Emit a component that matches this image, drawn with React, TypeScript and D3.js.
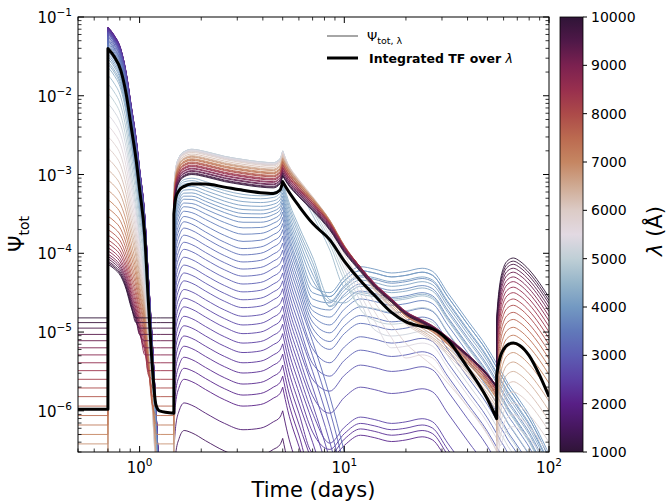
import React from "react";
import * as d3 from "d3";

// ---------- data (log10 of Psi unless stated) ----------
const WAVELENGTHS = [
  1000,1250,1500,1750,
  2000,2080,2160,2240,2320,2400,2480,2560,2640,2720,2800,2880,2960,3040,3120,3200,3280,3360,3440,3520,3600,3680,3760,3840,3920,4000,4080,4160,4240,4320,4400,
  4600,4800,5000,5200,5400,5600,5800,6000,6200,6400,6600,6800,7000,7200,7400,7600,7800,8000,8200,8400,8600,8800,9000,9200,9400,9600,9800,10000];

// flat level before the first flash (0.5-0.7 d) and between flashes
const LVL_A = [
  -9,-9,-9,-9,
  -9,-9,-9,-9,-9,-9,-9,-9,-9,-9,-9,-9,-9,-9,-9,-9,-9,-9,-9,-9,-9,-9,-9,-9,-9,-9,-9,-9,-9,-9,-9,
  -9,-9,-9,-9,-9,-9,-9,-9,-9,-6.7,-6.55,-6.42,-6.3,-6.18,-6.06,-5.94,-5.82,-5.71,-5.6,-5.49,-5.39,-5.29,-5.2,-5.11,-5.03,-4.95,-4.88,-4.82];
// first flash peak at 0.7 d
const PEAK_B = [
  -1.17,-1.15,-1.14,-1.13,
  -1.13,-1.13,-1.14,-1.14,-1.15,-1.15,-1.16,-1.17,-1.18,-1.19,-1.19,-1.2,-1.21,-1.22,-1.24,-1.25,-1.27,-1.29,-1.3,-1.32,-1.34,-1.36,-1.39,-1.41,-1.44,-1.47,-1.5,-1.53,-1.57,-1.6,-1.64,
  -1.74,-1.85,-1.97,-2.1,-2.24,-2.38,-2.52,-2.66,-2.8,-2.94,-3.07,-3.2,-3.32,-3.43,-3.53,-3.62,-3.7,-3.77,-3.83,-3.88,-3.93,-3.97,-4.01,-4.04,-4.07,-4.1,-4.12,-4.14];
const DECAY_B = [
  1,1,1,1,
  1,1,1,1,1,1,1,1,1,1,1,1,1,1,1,1,1,1,1,1,1,1,1,1,1,1,1,1,1,1,1,
  1,1,1,0.97,0.93,0.9,0.86,0.82,0.78,0.74,0.7,0.67,0.64,0.61,0.59,0.57,0.56,0.55,0.55,0.55,0.55,0.55,0.55,0.55,0.55,0.55,0.55,0.55];
// second plateau level (~1.8 d)
const LVL_C = [
  -7.2,-6.7,-6.25,-5.9,
  -5.6,-5.46,-5.32,-5.18,-5.05,-4.92,-4.8,-4.68,-4.57,-4.46,-4.35,-4.25,-4.15,-4.05,-3.95,-3.86,-3.77,-3.68,-3.6,-3.53,-3.46,-3.4,-3.35,-3.3,-3.26,-3.22,-3.18,-3.14,-3.1,-3.07,-3.04,
  -2.7,-2.68,-2.68,-2.68,-2.69,-2.7,-2.71,-2.72,-2.74,-2.76,-2.77,-2.78,-2.8,-2.81,-2.82,-2.84,-2.85,-2.86,-2.88,-2.89,-2.9,-2.92,-2.93,-2.95,-2.96,-2.98,-2.99,-3.0];
const MIX_C = [
  1,1,1,1,
  1,1,1,1,1,1,1,1,1,1,1,1,1,1,1,1,1,1,1,0.9,0.8,0.7,0.6,0.55,0.5,0.45,0.4,0.35,0.3,0.25,0.2,
  0,0,0,0,0,0,0,0,0,0,0,0,0,0,0,0,0,0,0,0,0,0,0,0,0,0,0,0];
const MIX_D = [
  1,1,1,1,
  1,1,1,1,1,1,1,1,1,1,1,1,1,1,1,1,1,1,1,1,1,1,1,0.95,0.9,0.85,0.8,0.75,0.7,0.65,0.6,
  0.35,0.3,0.25,0.2,0.15,0.1,0.05,0,0,0,0,0,0,0,0,0,0,0,0,0,0,0,0,0,0,0,0,0];
const SLOPE_D = [
  1.1,1.1,1.1,1.1,
  1.1,1.1,1.1,1.1,1.1,1.1,1.1,1.1,1.1,1.1,1.1,1.1,1.1,1.1,1.1,1.1,1.1,1.1,1.1,1.1,1.1,1.1,1.1,1.1,1.1,1.1,1.1,1.1,1.1,1.1,1.1,
  1.1,1.1,1.1,1.1,1.1,1.1,1.1,1.08,1.06,1.04,1.02,1.0,0.99,0.98,0.97,0.96,0.95,0.94,0.93,0.92,0.91,0.9,0.9,0.89,0.89,0.88,0.88,0.88];
const FLOOR_D = [
  -12,-12,-12,-12,
  -12,-6.39,-12,-6.31,-12,-6.24,-12,-6.16,-12,-5.78,-12,-5.5,-12,-5.31,-12,-5.14,-12,-4.97,-4.87,-4.76,-4.66,-4.56,-4.47,-4.38,-4.3,-4.25,-4.3,-4.36,-4.42,-4.5,-4.58,
  -4.6,-4.75,-4.9,-5.05,-5.2,-5.35,-5.5,-5.65,-12,-12,-12,-12,-12,-12,-12,-12,-12,-12,-12,-12,-12,-12,-12,-12,-12,-12,-12,-12];
// third flash peak (~67 d)
const PEAK_E = [
  -12,-12,-12,-12,
  -12,-12,-12,-12,-12,-12,-12,-12,-12,-12,-12,-12,-12,-12,-12,-12,-12,-12,-12,-12,-12,-12,-12,-12,-12,-12,-12,-12,-12,-12,-12,
  -12,-12,-12,-12,-6.2,-6.05,-5.9,-5.76,-5.63,-5.5,-5.38,-5.26,-5.15,-5.04,-4.94,-4.84,-4.75,-4.66,-4.58,-4.5,-4.43,-4.36,-4.3,-4.24,-4.19,-4.14,-4.1,-4.06];

// shared time profiles (days, log10 offsets)
const B_T = [0.7,0.75,0.81,0.86,0.91,0.96,1.0,1.06,1.1,1.16,1.21,1.26];
const B_SHAPE = [0,-0.1,-0.28,-0.58,-1.0,-1.4,-1.8,-2.4,-3.1,-4.1,-5.0,-6.0];
const JUMP_C = 1.47;
const C_T = [1.47,1.5,1.56,1.65,1.8,2.1,2.6,3.2,3.9,4.5,4.85,5.0];
const C_FLAT = [-0.5,-0.25,-0.1,-0.03,0,-0.03,-0.09,-0.13,-0.16,-0.17,-0.12,-0.02];
const C_DIP = [-0.6,-0.3,-0.1,0,-0.03,-0.13,-0.26,-0.34,-0.32,-0.24,-0.18,-0.1];
const D_T = [5.0,5.3,6,7,8.5,10,12,14,17,20,24,27,32,40,50,55.5];
const D_RED = [0,-0.12,-0.3,-0.5,-0.78,-1.1,-1.38,-1.6,-1.82,-2.0,-2.12,-2.2,-2.36,-2.6,-2.88,-3.05];
const D_STEEP = [0,-0.3,-0.75,-1.25,-1.95,-2.65,-3.5,-4.3,-5.5,-6.5,-7.5,-8,-9,-10,-11,-12];
const D_FLOOR = [-9,-9,-9,-1.2,-0.25,-0.05,0.08,0.05,0,0.02,0.06,0.02,-0.25,-0.6,-0.95,-1.15];
const E_T = [55.5,56.5,58,60,63,67,72,80,90,100];
const E_SHAPE = [-0.75,-0.5,-0.27,-0.12,-0.03,0,-0.04,-0.15,-0.32,-0.5];
const E_FLOOR = [-1.15,-1.18,-1.24,-1.3,-1.4,-1.5,-1.62,-1.8,-2.05,-2.3];

// integrated transfer function (black), [days, log10]
const TF_A: [number, number][] = [[0.5,-5.98],[0.7,-5.98]];
const TF_B: [number, number][] = [[0.7,-1.4],[0.75,-1.5],[0.81,-1.68],[0.86,-1.98],[0.91,-2.4],[0.96,-2.8],[1.0,-3.19],[1.06,-3.79],[1.1,-4.55],[1.16,-5.52],[1.2,-5.92],[1.25,-6.0],[1.47,-6.03]];
const TF_C: [number, number][] = [[1.47,-3.5],[1.5,-3.3],[1.56,-3.2],[1.65,-3.15],[1.8,-3.12],[2.1,-3.12],[2.6,-3.16],[3.2,-3.2],[3.9,-3.23],[4.5,-3.24],[4.85,-3.2],[5.0,-3.09]];
const TF_D: [number, number][] = [[5.0,-3.09],[5.3,-3.2],[6,-3.4],[7,-3.62],[8.5,-3.83],[10,-4.1],[12,-4.35],[14,-4.53],[17,-4.75],[20,-4.87],[24,-4.93],[27,-4.96],[32,-5.1],[40,-5.45],[50,-5.85],[55.5,-6.1]];
const TF_E: [number, number][] = [[55.5,-5.55],[56.5,-5.42],[58,-5.3],[60,-5.22],[63,-5.16],[67,-5.14],[72,-5.17],[80,-5.3],[90,-5.55],[100,-5.82]];

// colormap (twilight_shifted-like) sampled from colorbar
const CMAP_LAMBDA = [1000,1500,2000,2500,3000,3500,4000,4500,5000,5500,6000,6500,7000,7500,8000,8500,9000,9500,10000];
const CMAP_COLORS = ["#2f1437","#46175e","#581f86","#5b3fa3","#5d5db3","#6179ba","#7399c2","#96b5c9","#bfcfd6","#e2d9e2","#dccbc6","#cfaa93","#c58662","#bb6a50","#ac4a49","#982f4e","#7b2150","#4f1848","#2f1437"];
const CBAR_TICKS = [1000,2000,3000,4000,5000,6000,7000,8000,9000,10000];

const X_MAJOR = [1, 10, 100];
const Y_MAJOR_EXP = [-6,-5,-4,-3,-2,-1];

const FONT = "DejaVu Sans";

export default function App() {
  const L = 78, R = 549, T = 17, B = 452;
  const x = d3.scaleLog().domain([0.5, 100]).range([L, R]);
  const y = d3.scaleLog().domain([3e-7, 0.1]).range([B, T]);
  const cmap = d3.scaleLinear<string>().domain(CMAP_LAMBDA).range(CMAP_COLORS).interpolate(d3.interpolateRgb);

  const line = d3.line<[number, number]>()
    .x(d => x(d[0]))
    .y(d => y(Math.pow(10, d[1])))
    .curve(d3.curveMonotoneX);

  const joinPieces = (pieces: [number, number][][]) =>
    pieces.map((p, k) => {
      const s = line(p) || "";
      return k === 0 ? s : "L" + s.slice(1);
    }).join("");

  const colored = WAVELENGTHS.map((lam, i) => {
    const la = LVL_A[i];
    const pA: [number, number][] = [[0.5, la], [0.7, la]];
    const pB: [number, number][] = B_T.map((t, j) => [t, Math.max(PEAK_B[i] + DECAY_B[i] * B_SHAPE[j], la)] as [number, number]);
    pB.push([JUMP_C, la]);
    const pC: [number, number][] = C_T.map((t, j) => [t, LVL_C[i] + (1 - MIX_C[i]) * C_FLAT[j] + MIX_C[i] * C_DIP[j]] as [number, number]);
    const v5 = pC[pC.length - 1][1];
    const pD: [number, number][] = D_T.map((t, j) => [t, Math.max(v5 + (1 - MIX_D[i]) * SLOPE_D[i] * D_RED[j] + MIX_D[i] * D_STEEP[j], FLOOR_D[i] + D_FLOOR[j])] as [number, number]);
    const pE: [number, number][] = E_T.map((t, j) => [t, Math.max(PEAK_E[i] + E_SHAPE[j], FLOOR_D[i] + E_FLOOR[j])] as [number, number]);
    return { d: joinPieces([pA, pB, pC, pD, pE]), color: cmap(lam), key: lam };
  });
  const blackPath = joinPieces([TF_A, TF_B, TF_C, TF_D, TF_E]);

  const xMinor: number[] = [];
  [0.1, 1, 10].forEach(dec => { for (let k = 2; k <= 9; k++) { const v = k * dec; if (v >= 0.5 && v <= 100) xMinor.push(v); } });
  const yMinor: number[] = [];
  [-7, -6, -5, -4, -3, -2].forEach(e => { for (let k = 2; k <= 9; k++) { const v = k * Math.pow(10, e); if (v >= 3e-7 * 0.999 && v <= 0.1) yMinor.push(v); } });

  const cy = d3.scaleLinear().domain([1000, 10000]).range([B, T]);

  return (
    <svg width={671} height={504} style={{ position: "absolute", left: 0, top: 0, background: "#fff" }} fontFamily={FONT}>
      <defs>
        <clipPath id="plotclip"><rect x={L} y={T} width={R - L} height={B - T} /></clipPath>
        <linearGradient id="cbar" x1="0" y1="1" x2="0" y2="0">
          {CMAP_LAMBDA.map((v, k) => (
            <stop key={v} offset={(v - 1000) / 9000} stopColor={CMAP_COLORS[k]} />
          ))}
        </linearGradient>
      </defs>
      <rect x={0} y={0} width={671} height={504} fill="#fff" />
      <g clipPath="url(#plotclip)">
        {colored.map(c => (
          <path key={c.key} d={c.d} fill="none" stroke={c.color} strokeWidth={1} strokeOpacity={0.9} />
        ))}
        <path d={blackPath} fill="none" stroke="#000" strokeWidth={3} strokeLinejoin="round" />
      </g>
      <rect x={L} y={T} width={R - L} height={B - T} fill="none" stroke="#000" strokeWidth={1} />
      {X_MAJOR.map(v => (
        <g key={"xM" + v}>
          <line x1={x(v)} x2={x(v)} y1={B} y2={B - 6} stroke="#000" strokeWidth={1} />
          <line x1={x(v)} x2={x(v)} y1={T} y2={T + 6} stroke="#000" strokeWidth={1} />
          <text x={x(v)} y={473} textAnchor="middle" fontSize={15}>
            10<tspan dy={-7} fontSize={10.5}>{String(Math.round(Math.log10(v)))}</tspan>
          </text>
        </g>
      ))}
      {xMinor.map(v => (
        <g key={"xm" + v}>
          <line x1={x(v)} x2={x(v)} y1={B} y2={B - 3.5} stroke="#000" strokeWidth={0.8} />
          <line x1={x(v)} x2={x(v)} y1={T} y2={T + 3.5} stroke="#000" strokeWidth={0.8} />
        </g>
      ))}
      {Y_MAJOR_EXP.map(e => {
        const yy = y(Math.pow(10, e));
        return (
          <g key={"yM" + e}>
            <line x1={L} x2={L + 6} y1={yy} y2={yy} stroke="#000" strokeWidth={1} />
            <line x1={R} x2={R - 6} y1={yy} y2={yy} stroke="#000" strokeWidth={1} />
            <text x={72} y={yy + 6} textAnchor="end" fontSize={15}>
              10<tspan dy={-7} fontSize={10.5}>{"\u2212" + Math.abs(e)}</tspan>
            </text>
          </g>
        );
      })}
      {yMinor.map(v => (
        <g key={"ym" + v}>
          <line x1={L} x2={L + 3.5} y1={y(v)} y2={y(v)} stroke="#000" strokeWidth={0.8} />
          <line x1={R} x2={R - 3.5} y1={y(v)} y2={y(v)} stroke="#000" strokeWidth={0.8} />
        </g>
      ))}
      <text x={313.5} y={497} textAnchor="middle" fontSize={21}>Time (days)</text>
      <text transform="translate(24,234) rotate(-90)" textAnchor="middle" fontSize={21}>
        Ψ<tspan dy={5} fontSize={14}>tot</tspan>
      </text>
      <line x1={327} x2={358} y1={36} y2={36} stroke="#888" strokeWidth={1.5} />
      <text x={367} y={41} fontSize={13}>
        Ψ<tspan dy={3} fontSize={9.5}>tot, λ</tspan>
      </text>
      <line x1={327} x2={358} y1={58} y2={58} stroke="#000" strokeWidth={3} />
      <text x={369} y={63} fontSize={12.5} fontWeight="bold">
        Integrated TF over <tspan fontStyle="italic" fontWeight="normal">λ</tspan>
      </text>
      <rect x={560} y={T} width={23} height={B - T} fill="url(#cbar)" stroke="#000" strokeWidth={0.8} />
      {CBAR_TICKS.map(v => (
        <g key={"cb" + v}>
          <line x1={583} x2={587} y1={cy(v)} y2={cy(v)} stroke="#000" strokeWidth={1} />
          <text x={591} y={cy(v) + 5} fontSize={14}>{v}</text>
        </g>
      ))}
      <text transform="translate(662,231) rotate(-90)" textAnchor="middle" fontSize={21}>
        <tspan fontStyle="italic">λ</tspan> (Å)
      </text>
    </svg>
  );
}
